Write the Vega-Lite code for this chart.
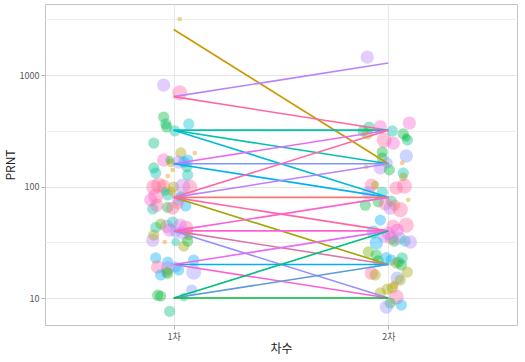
{
  "$schema": "https://vega.github.io/schema/vega-lite/v6.json",
  "width": 472,
  "height": 321,
  "autosize": {"type": "none"},
  "padding": {"left": 45, "top": 4, "right": 8, "bottom": 37},
  "config": {
    "view": {"stroke": "#C4C4C4", "strokeWidth": 1},
    "font": "Noto Sans CJK KR"
  },
  "datasets": {
    "pts": [
      {"x": 1.028, "v": 3177, "g": "gold", "s": 1},
      {"x": 0.953, "v": 813, "g": "purple", "s": 4},
      {"x": 1.028, "v": 693, "g": "pink", "s": 5},
      {"x": 0.953, "v": 420, "g": "green", "s": 3},
      {"x": 0.963, "v": 364, "g": "mint", "s": 3},
      {"x": 0.967, "v": 342, "g": "green", "s": 3},
      {"x": 1.07, "v": 364, "g": "cyan", "s": 3},
      {"x": 1.005, "v": 315, "g": "teal", "s": 3},
      {"x": 0.907, "v": 245, "g": "mint", "s": 3},
      {"x": 0.953, "v": 173, "g": "fuchsia", "s": 4},
      {"x": 1.033, "v": 200, "g": "olive", "s": 3},
      {"x": 1.098, "v": 200, "g": "gold", "s": 1},
      {"x": 0.981, "v": 173, "g": "green", "s": 2},
      {"x": 1.023, "v": 166, "g": "purple", "s": 4},
      {"x": 1.065, "v": 173, "g": "sky", "s": 3},
      {"x": 1.061, "v": 150, "g": "mint", "s": 3},
      {"x": 0.907, "v": 147, "g": "mint", "s": 3},
      {"x": 0.916, "v": 132, "g": "teal", "s": 3},
      {"x": 0.995, "v": 141, "g": "gold", "s": 1},
      {"x": 0.972, "v": 124, "g": "orange", "s": 1},
      {"x": 1.065, "v": 127, "g": "teal", "s": 3},
      {"x": 1.047, "v": 166, "g": "sky", "s": 3},
      {"x": 0.986, "v": 163, "g": "olive", "s": 2},
      {"x": 0.907, "v": 99, "g": "pink", "s": 5},
      {"x": 0.93, "v": 103, "g": "pink", "s": 5},
      {"x": 0.953, "v": 101, "g": "red", "s": 4},
      {"x": 1.0, "v": 99, "g": "olive", "s": 3},
      {"x": 1.042, "v": 101, "g": "purple", "s": 5},
      {"x": 1.075, "v": 99, "g": "pink", "s": 5},
      {"x": 0.972, "v": 84, "g": "teal", "s": 3},
      {"x": 0.916, "v": 82, "g": "pink", "s": 5},
      {"x": 0.893, "v": 76, "g": "fuchsia", "s": 4},
      {"x": 0.902, "v": 63, "g": "teal", "s": 3},
      {"x": 0.972, "v": 65, "g": "green", "s": 3},
      {"x": 1.056, "v": 67, "g": "sky", "s": 3},
      {"x": 0.995, "v": 64, "g": "pink", "s": 4},
      {"x": 1.019, "v": 70, "g": "red", "s": 3},
      {"x": 1.033, "v": 81, "g": "teal", "s": 3},
      {"x": 1.023, "v": 77, "g": "purple", "s": 4},
      {"x": 0.921, "v": 68, "g": "pink", "s": 4},
      {"x": 0.96, "v": 90, "g": "mint", "s": 2},
      {"x": 0.99, "v": 90, "g": "gold", "s": 2},
      {"x": 0.916, "v": 43, "g": "teal", "s": 3},
      {"x": 0.967, "v": 44, "g": "purple", "s": 4},
      {"x": 0.981, "v": 40.7, "g": "fuchsia", "s": 4},
      {"x": 0.995, "v": 48, "g": "teal", "s": 3},
      {"x": 1.056, "v": 42.5, "g": "pink", "s": 5},
      {"x": 0.902, "v": 33, "g": "purple", "s": 4},
      {"x": 0.907, "v": 36.7, "g": "olive", "s": 3},
      {"x": 0.958, "v": 31.8, "g": "orange", "s": 1},
      {"x": 1.009, "v": 39, "g": "blue", "s": 3},
      {"x": 1.042, "v": 38.3, "g": "purple", "s": 4},
      {"x": 1.047, "v": 29.2, "g": "olive", "s": 3},
      {"x": 1.07, "v": 36, "g": "olive", "s": 2},
      {"x": 1.07, "v": 40, "g": "gold", "s": 2},
      {"x": 1.009, "v": 31.8, "g": "teal", "s": 2},
      {"x": 1.065, "v": 32.4, "g": "green", "s": 3},
      {"x": 0.94, "v": 46, "g": "lime", "s": 3},
      {"x": 1.03, "v": 45, "g": "magenta", "s": 4},
      {"x": 0.916, "v": 22.9, "g": "sky", "s": 3},
      {"x": 0.972, "v": 21.0, "g": "sky", "s": 3},
      {"x": 1.093, "v": 21.9, "g": "sky", "s": 3},
      {"x": 0.925, "v": 19.0, "g": "pink", "s": 4},
      {"x": 0.972, "v": 18.6, "g": "purple", "s": 4},
      {"x": 0.967, "v": 17.1, "g": "olive", "s": 3},
      {"x": 0.972, "v": 16.7, "g": "green", "s": 3},
      {"x": 0.939, "v": 16.1, "g": "sky", "s": 3},
      {"x": 1.009, "v": 19.0, "g": "blue", "s": 3},
      {"x": 1.093, "v": 17.1, "g": "violet", "s": 5},
      {"x": 1.023, "v": 17.8, "g": "sky", "s": 3},
      {"x": 0.925, "v": 10.6, "g": "green", "s": 3},
      {"x": 0.939, "v": 10.4, "g": "green", "s": 3},
      {"x": 0.981, "v": 7.6, "g": "mint", "s": 3},
      {"x": 1.047, "v": 10.2, "g": "mint", "s": 2},
      {"x": 1.084, "v": 11.8, "g": "blue", "s": 3},
      {"x": 1.902, "v": 1449, "g": "purple", "s": 4},
      {"x": 2.098, "v": 371, "g": "fuchsia", "s": 4},
      {"x": 1.911, "v": 342, "g": "mint", "s": 3},
      {"x": 1.963, "v": 342, "g": "fuchsia", "s": 4},
      {"x": 1.883, "v": 315, "g": "green", "s": 3},
      {"x": 1.902, "v": 296, "g": "olive", "s": 3},
      {"x": 1.981, "v": 261, "g": "pink", "s": 5},
      {"x": 2.019, "v": 315, "g": "teal", "s": 3},
      {"x": 2.023, "v": 245, "g": "fuchsia", "s": 4},
      {"x": 2.07, "v": 296, "g": "green", "s": 3},
      {"x": 2.089, "v": 261, "g": "mint", "s": 3},
      {"x": 2.084, "v": 275, "g": "green", "s": 2},
      {"x": 1.972, "v": 204, "g": "green", "s": 3},
      {"x": 1.972, "v": 180, "g": "green", "s": 3},
      {"x": 2.084, "v": 188, "g": "blue", "s": 4},
      {"x": 2.065, "v": 163, "g": "orange", "s": 1},
      {"x": 1.995, "v": 163, "g": "blue", "s": 3},
      {"x": 1.963, "v": 147, "g": "purple", "s": 4},
      {"x": 2.005, "v": 141, "g": "green", "s": 3},
      {"x": 1.897, "v": 150, "g": "gold", "s": 1},
      {"x": 2.07, "v": 132, "g": "teal", "s": 3},
      {"x": 2.07, "v": 122, "g": "olive", "s": 2},
      {"x": 1.921, "v": 103, "g": "pink", "s": 4},
      {"x": 1.939, "v": 103, "g": "olive", "s": 2},
      {"x": 1.972, "v": 89, "g": "teal", "s": 3},
      {"x": 2.037, "v": 97, "g": "pink", "s": 4},
      {"x": 2.075, "v": 101, "g": "pink", "s": 5},
      {"x": 2.093, "v": 76, "g": "gold", "s": 1},
      {"x": 1.907, "v": 88, "g": "purple", "s": 4},
      {"x": 1.953, "v": 73, "g": "green", "s": 3},
      {"x": 2.014, "v": 74, "g": "mint", "s": 3},
      {"x": 1.986, "v": 70, "g": "pink", "s": 4},
      {"x": 2.009, "v": 64, "g": "purple", "s": 4},
      {"x": 2.056, "v": 62, "g": "pink", "s": 5},
      {"x": 1.893, "v": 68, "g": "green", "s": 3},
      {"x": 2.03, "v": 68, "g": "red", "s": 3},
      {"x": 1.963, "v": 50, "g": "sky", "s": 3},
      {"x": 2.084, "v": 45, "g": "pink", "s": 5},
      {"x": 2.023, "v": 44, "g": "pink", "s": 4},
      {"x": 2.042, "v": 40.7, "g": "fuchsia", "s": 4},
      {"x": 1.93, "v": 39, "g": "sky", "s": 4},
      {"x": 1.981, "v": 36, "g": "purple", "s": 4},
      {"x": 2.014, "v": 34.5, "g": "pink", "s": 4},
      {"x": 2.028, "v": 32.4, "g": "green", "s": 3},
      {"x": 2.051, "v": 34.5, "g": "purple", "s": 4},
      {"x": 2.079, "v": 32.4, "g": "teal", "s": 3},
      {"x": 2.103, "v": 31.8, "g": "purple", "s": 4},
      {"x": 1.944, "v": 31.1, "g": "sky", "s": 4},
      {"x": 2.0, "v": 38, "g": "magenta", "s": 4},
      {"x": 1.907, "v": 25.9, "g": "lime", "s": 3},
      {"x": 1.944, "v": 24.3, "g": "green", "s": 3},
      {"x": 1.953, "v": 21.5, "g": "green", "s": 3},
      {"x": 2.014, "v": 21.9, "g": "sky", "s": 3},
      {"x": 2.047, "v": 21.0, "g": "cyan", "s": 3},
      {"x": 2.065, "v": 22.9, "g": "mint", "s": 3},
      {"x": 2.037, "v": 20.6, "g": "olive", "s": 3},
      {"x": 2.061, "v": 19.8, "g": "green", "s": 3},
      {"x": 1.921, "v": 16.7, "g": "pink", "s": 4},
      {"x": 1.939, "v": 16.1, "g": "olive", "s": 3},
      {"x": 2.089, "v": 17.1, "g": "olive", "s": 3},
      {"x": 2.042, "v": 15.1, "g": "blue", "s": 4},
      {"x": 2.056, "v": 14.5, "g": "olive", "s": 3},
      {"x": 1.99, "v": 23, "g": "sky", "s": 3},
      {"x": 1.963, "v": 11.1, "g": "olive", "s": 3},
      {"x": 2.019, "v": 12.3, "g": "olive", "s": 3},
      {"x": 2.028, "v": 13.1, "g": "gold", "s": 2},
      {"x": 2.037, "v": 10.2, "g": "pink", "s": 5},
      {"x": 2.009, "v": 9.0, "g": "green", "s": 3},
      {"x": 2.061, "v": 8.65, "g": "sky", "s": 3},
      {"x": 1.991, "v": 8.3, "g": "violet", "s": 4},
      {"x": 1.995, "v": 12.0, "g": "olive", "s": 3}
    ],
    "lines": [
      {"id": "L01", "t": 1, "v": 2560, "g": "gold"}, {"id": "L01", "t": 2, "v": 160, "g": "gold"},
      {"id": "L02", "t": 1, "v": 640, "g": "purple"}, {"id": "L02", "t": 2, "v": 1280, "g": "purple"},
      {"id": "L03", "t": 1, "v": 640, "g": "pink"}, {"id": "L03", "t": 2, "v": 320, "g": "pink"},
      {"id": "L04", "t": 1, "v": 320, "g": "teal"}, {"id": "L04", "t": 2, "v": 320, "g": "teal"},
      {"id": "L04b", "t": 1, "v": 320, "g": "teal"}, {"id": "L04b", "t": 2, "v": 320, "g": "teal"},
      {"id": "L05", "t": 1, "v": 320, "g": "teal"}, {"id": "L05", "t": 2, "v": 160, "g": "teal"},
      {"id": "L06", "t": 1, "v": 320, "g": "cyan"}, {"id": "L06", "t": 2, "v": 80, "g": "cyan"},
      {"id": "L07", "t": 1, "v": 160, "g": "magenta"}, {"id": "L07", "t": 2, "v": 320, "g": "magenta"},
      {"id": "L08", "t": 1, "v": 160, "g": "blue"}, {"id": "L08", "t": 2, "v": 160, "g": "blue"},
      {"id": "L09", "t": 1, "v": 160, "g": "sky"}, {"id": "L09", "t": 2, "v": 80, "g": "sky"},
      {"id": "L10", "t": 1, "v": 80, "g": "pink"}, {"id": "L10", "t": 2, "v": 320, "g": "pink"},
      {"id": "L11", "t": 1, "v": 80, "g": "purple"}, {"id": "L11", "t": 2, "v": 160, "g": "purple"},
      {"id": "L12", "t": 1, "v": 80, "g": "red"}, {"id": "L12", "t": 2, "v": 80, "g": "red"},
      {"id": "L13", "t": 1, "v": 80, "g": "olive"}, {"id": "L13", "t": 2, "v": 20, "g": "olive"},
      {"id": "L14", "t": 1, "v": 80, "g": "pink"}, {"id": "L14", "t": 2, "v": 40, "g": "pink"},
      {"id": "L15", "t": 1, "v": 40, "g": "fuchsia"}, {"id": "L15", "t": 2, "v": 80, "g": "fuchsia"},
      {"id": "L16", "t": 1, "v": 40, "g": "fuchsia"}, {"id": "L16", "t": 2, "v": 40, "g": "fuchsia"},
      {"id": "L17", "t": 1, "v": 40, "g": "violet"}, {"id": "L17", "t": 2, "v": 10, "g": "violet"},
      {"id": "L18", "t": 1, "v": 40, "g": "mauve"}, {"id": "L18", "t": 2, "v": 20, "g": "mauve"},
      {"id": "L19", "t": 1, "v": 20, "g": "magenta"}, {"id": "L19", "t": 2, "v": 40, "g": "magenta"},
      {"id": "L20", "t": 1, "v": 20, "g": "sky"}, {"id": "L20", "t": 2, "v": 20, "g": "sky"},
      {"id": "L21", "t": 1, "v": 20, "g": "fuchsia"}, {"id": "L21", "t": 2, "v": 10, "g": "fuchsia"},
      {"id": "L22", "t": 1, "v": 10, "g": "mint"}, {"id": "L22", "t": 2, "v": 40, "g": "mint"},
      {"id": "L23", "t": 1, "v": 10, "g": "steel"}, {"id": "L23", "t": 2, "v": 20, "g": "steel"},
      {"id": "L24", "t": 1, "v": 10, "g": "green"}, {"id": "L24", "t": 2, "v": 10, "g": "green"}
    ]
  },
  "encoding": {
    "x": {
      "type": "quantitative",
      "scale": {"domain": [0.4, 2.6], "nice": false, "zero": false},
      "axis": {
        "title": "차수",
        "values": [1, 2],
        "labelExpr": "datum.value == 1 ? '1차' : '2차'",
        "domain": false,
        "grid": true,
        "gridColor": "#E8E8E8",
        "tickColor": "#B3B3B3",
        "tickSize": 4,
        "labelFontSize": 9,
        "labelColor": "#555555",
        "labelPadding": 3,
        "titleFontSize": 12,
        "titleFontWeight": "normal",
        "titleColor": "#222222",
        "titlePadding": 2
      }
    },
    "y": {
      "type": "quantitative",
      "scale": {"type": "log", "domain": [5.73, 4336], "nice": false, "zero": false},
      "axis": {
        "title": "PRNT",
        "values": [10, 31.62, 100, 316.2, 1000, 3162.3],
        "labelExpr": "datum.value == 10 ? '10' : datum.value == 100 ? '100' : datum.value == 1000 ? '1000' : ''",
        "domain": false,
        "grid": true,
        "gridColor": {"condition": {"test": "datum.value == 10 || datum.value == 100 || datum.value == 1000", "value": "#E6E6E6"}, "value": "#EFEFEF"},
        "tickOpacity": {"condition": {"test": "datum.value == 10 || datum.value == 100 || datum.value == 1000", "value": 1}, "value": 0},
        "tickColor": "#B3B3B3",
        "tickSize": 4,
        "labelFontSize": 9,
        "labelColor": "#555555",
        "labelPadding": 2,
        "titleFontSize": 12,
        "titleFontWeight": "normal",
        "titleColor": "#222222",
        "titlePadding": 2
      }
    },
    "color": {
      "field": "g",
      "type": "nominal",
      "legend": null,
      "scale": {
        "domain": ["red", "orange", "gold", "olive", "lime", "green", "mint", "teal", "cyan", "sky", "blue", "steel", "purple", "violet", "magenta", "fuchsia", "pink", "mauve"],
        "range": ["#F8766D", "#E58700", "#C99800", "#A3A500", "#6BB100", "#00BA38", "#00BF7D", "#00C0AF", "#00BCD8", "#00B0F6", "#7F96FF", "#5A9BD8", "#B983FF", "#9590FF", "#E76BF3", "#FD61D1", "#FF67A4", "#D977A8"]
      }
    }
  },
  "layer": [
    {
      "data": {"name": "pts"},
      "mark": {"type": "circle", "opacity": 0.4, "stroke": null},
      "encoding": {
        "x": {"field": "x", "type": "quantitative"},
        "y": {"field": "v", "type": "quantitative"},
        "size": {"field": "s", "type": "quantitative", "legend": null, "scale": {"domain": [1, 5], "range": [22, 230]}}
      }
    },
    {
      "data": {"name": "lines"},
      "mark": {"type": "line", "strokeWidth": 1.6},
      "encoding": {
        "x": {"field": "t", "type": "quantitative"},
        "y": {"field": "v", "type": "quantitative"},
        "detail": {"field": "id", "type": "nominal"}
      }
    }
  ]
}
